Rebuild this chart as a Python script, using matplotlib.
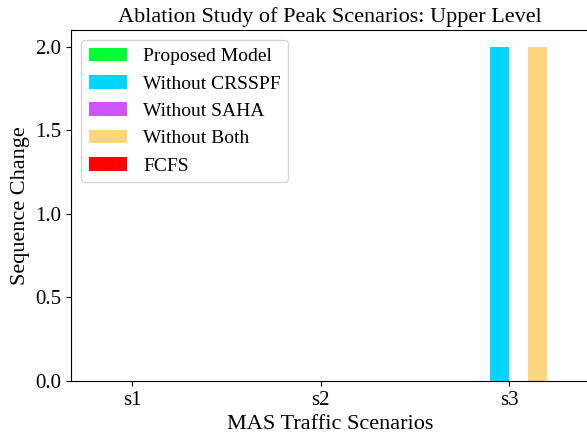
import numpy as np
import matplotlib
matplotlib.use("Agg")
import matplotlib.pyplot as plt
from matplotlib.ticker import MultipleLocator, FormatStrFormatter

plt.rcParams['font.family'] = ['Liberation Serif', 'DejaVu Serif']

# data
scenarios = ['s1', 's2', 's3']
proposed = [0, 0, 0]
without_crsspf = [0, 0, 2]
without_saha = [0, 0, 0]
without_both = [0, 0, 2]
fcfs = [0, 0, 0]

labels = ['Proposed Model', 'Without CRSSPF', 'Without SAHA', 'Without Both', 'FCFS']
colors = ['#00ff33', '#00d4ff', '#cc55ff', '#ffd580', '#ff0000']
series = [proposed, without_crsspf, without_saha, without_both, fcfs]

fig = plt.figure(figsize=(5.87, 4.36), dpi=100)
# the original picture cuts the axes off on the right
ax = fig.add_axes([0.121, 0.126, 0.8825, 0.805])

x = np.arange(len(scenarios))
w = 0.1
for i, (vals, lab, col) in enumerate(zip(series, labels, colors)):
    ax.bar(x + (i - 2) * w, vals, w, align='edge', color=col, label=lab)

ax.set_xticks(x)
ax.set_xticklabels(scenarios)
ax.yaxis.set_major_locator(MultipleLocator(0.5))
ax.yaxis.set_major_formatter(FormatStrFormatter('%.1f'))
ax.tick_params(labelsize=15)
ax.set_xlabel('MAS Traffic Scenarios', fontsize=16)
ax.set_ylabel('Sequence Change', fontsize=16)
ax.set_title('Ablation Study of Peak Scenarios: Upper Level', fontsize=16)
ax.legend(loc='upper left', fontsize=14)

fig.savefig('out.png', dpi=100)
